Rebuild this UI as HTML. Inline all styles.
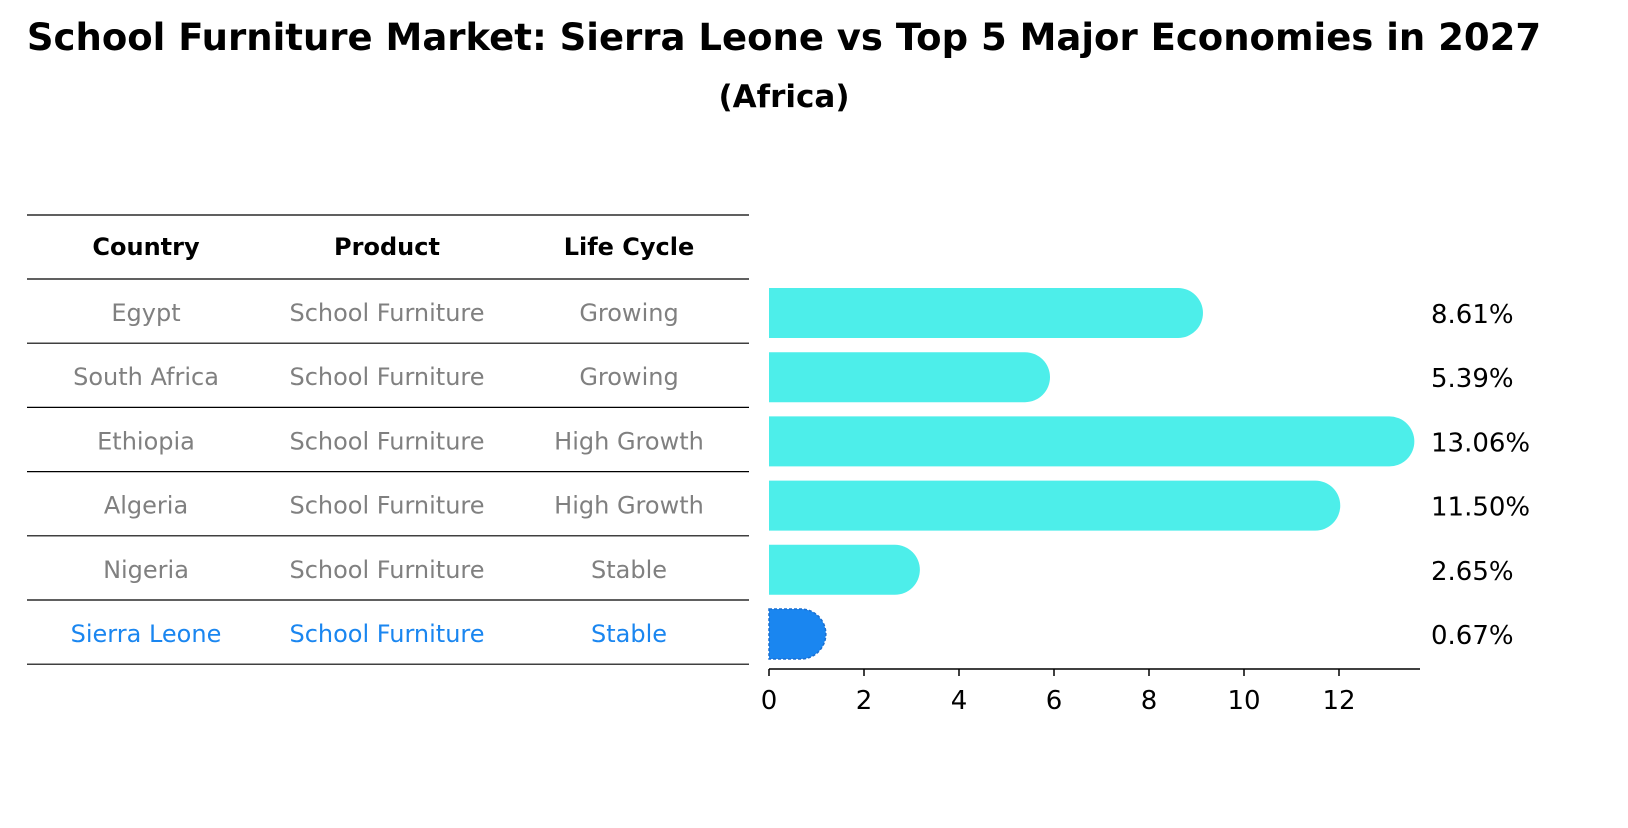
<!DOCTYPE html>
<html><head><meta charset="utf-8"><style>
body{margin:0;background:#fff;font-family:"Liberation Sans","DejaVu Sans",sans-serif}
svg text{font-family:"DejaVu Sans","Liberation Sans",sans-serif}
</style></head><body>
<svg id="chart" width="1628" height="823">
<text x="784" y="50" text-anchor="middle" font-size="37" font-weight="bold">School Furniture Market: Sierra Leone vs Top 5 Major Economies in 2027</text>
<text x="784" y="107" text-anchor="middle" font-size="31" font-weight="bold">(Africa)</text>
<g id="table"></g>
<g id="bars"></g>
<g id="axis"></g>
</svg>
<script>
const countries=["Egypt","South Africa","Ethiopia","Algeria","Nigeria","Sierra Leone"];
const products=["School Furniture","School Furniture","School Furniture","School Furniture","School Furniture","School Furniture"];
const lifeCycles=["Growing","Growing","High Growth","High Growth","Stable","Stable"];
const values=[8.61,5.39,13.06,11.50,2.65,0.67];
const ticks=[0,2,4,6,8,10,12];
const NS="http://www.w3.org/2000/svg";
function mk(tag,attrs,parent,txt){const e=document.createElementNS(NS,tag);for(const k in attrs)e.setAttribute(k,attrs[k]);if(txt!==undefined)e.textContent=txt;parent.appendChild(e);return e;}
const x0=769,ppu=47.5,rowY0=313,rowH=64.2,barH=50,cap=25;
const xs=v=>x0+v*ppu;
const ys=i=>rowY0+i*rowH;
const table=document.getElementById('table');
const cols=[146,387,629];
const heads=["Country","Product","Life Cycle"];
heads.forEach((h,j)=>{const t=mk('text',{x:cols[j],y:255,'text-anchor':'middle','font-size':24,'font-weight':'bold'},table,h);

});
for(let k=0;k<=7;k++){const y=k===0?215:279+(k-1)*64.2;
const l=mk('line',{x1:27,x2:749,y1:y,y2:y,stroke:'#000','stroke-width':1.2},table);

}
countries.forEach((c,i)=>{const col=i===countries.length-1?'#1a86f0':'#808080';
[c,products[i],lifeCycles[i]].forEach((s,j)=>{const t=mk('text',{x:cols[j],y:ys(i)+8,'text-anchor':'middle','font-size':24,fill:col},table,s);

});});
const bars=document.getElementById('bars');
values.forEach((v,i)=>{const hl=i===values.length-1;
const y=ys(i)-barH/2,xe=xs(v);
const p=mk('path',{d:`M${x0},${y}H${xe}A${cap},${cap} 0 0 1 ${xe},${y+barH}H${x0}Z`,fill:hl?'#1a86f0':'#4deeea'},bars);
if(hl){p.setAttribute('stroke','#1a6fd0');p.setAttribute('stroke-dasharray','3 2');p.setAttribute('stroke-width','1.5');}


const t=mk('text',{x:1431,y:ys(i)+10,'font-size':26},bars,v.toFixed(2)+'%');

});
const ax=document.getElementById('axis');
const al=mk('line',{x1:x0,x2:1420,y1:669,y2:669,stroke:'#000','stroke-width':1.5},ax);


ticks.forEach(v=>{const l=mk('line',{x1:xs(v),x2:xs(v),y1:669,y2:676,stroke:'#000','stroke-width':1.5},ax);


const t=mk('text',{x:xs(v),y:709,'text-anchor':'middle','font-size':26},ax,String(v));

});
</script>
</body></html>
